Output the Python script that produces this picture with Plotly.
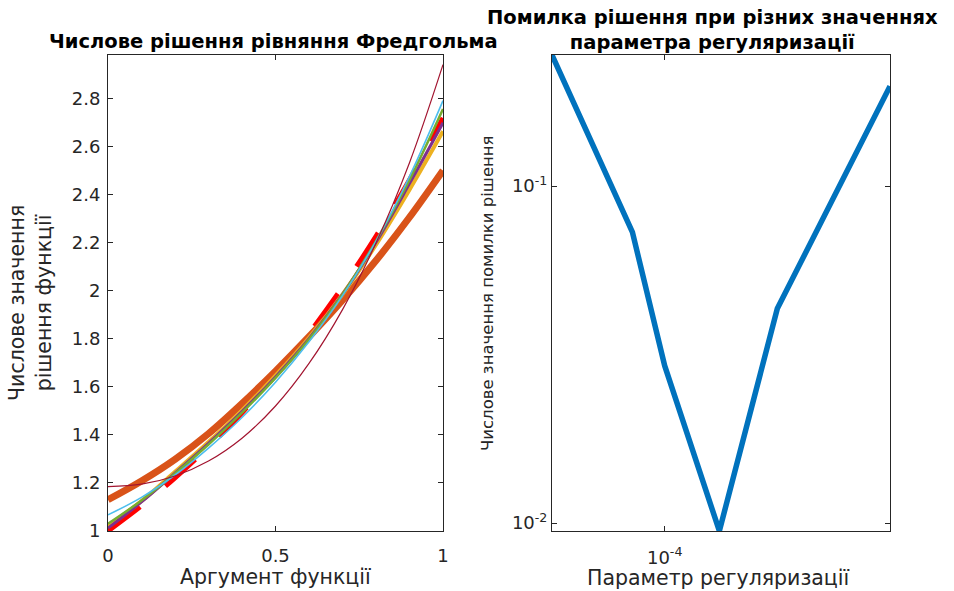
import plotly.graph_objects as go

# ---------------- data ----------------
x_arg = [0.0, 0.1, 0.2, 0.3, 0.4, 0.5, 0.6, 0.7, 0.8, 0.9, 1.0]
exact_solution = [1.000, 1.105, 1.221, 1.350, 1.492, 1.649, 1.822, 2.014, 2.226, 2.460, 2.718]
sol_1 = [1.130, 1.208, 1.298, 1.405, 1.530, 1.665, 1.808, 1.960, 2.125, 2.305, 2.500]   # orange
sol_2 = [1.020, 1.125, 1.246, 1.370, 1.502, 1.646, 1.804, 1.984, 2.191, 2.420, 2.663]   # yellow
sol_3 = [1.012, 1.121, 1.241, 1.365, 1.497, 1.641, 1.800, 1.984, 2.201, 2.445, 2.698]   # purple
sol_4 = [1.030, 1.127, 1.239, 1.360, 1.492, 1.637, 1.798, 1.984, 2.206, 2.460, 2.755]   # green
sol_5 = [1.067, 1.140, 1.233, 1.345, 1.472, 1.619, 1.787, 1.979, 2.206, 2.475, 2.790]   # light blue
sol_6 = [1.185, 1.195, 1.229, 1.291, 1.386, 1.520, 1.697, 1.921, 2.198, 2.532, 2.940]   # dark red

alpha = [5e-5, 8.2e-5, 1e-4, 1.4e-4, 2e-4, 4e-4]
error = [0.245, 0.073, 0.0293, 0.00947, 0.0433, 0.198]

left_yticks = [1.0, 1.2, 1.4, 1.6, 1.8, 2.0, 2.2, 2.4, 2.6, 2.8]
left_yticktext = ["1", "1.2", "1.4", "1.6", "1.8", "2", "2.2", "2.4", "2.6", "2.8"]
left_xticks = [0, 0.5, 1]
left_xticktext = ["0", "0.5", "1"]
right_yticks = [0.01, 0.1]
right_yticktext = ["10<sup>-2</sup>", "10<sup>-1</sup>"]
right_xticks = [1e-4]
right_xticktext = ["10<sup>-4</sup>"]

title_left = "Числове рішення рівняння Фредгольма"
title_right = "Помилка рішення при різних значеннях<br>параметра регуляризації"
xlabel_left = "Аргумент функції"
ylabel_left = "Числове значення<br>рішення функції"
xlabel_right = "Параметр регуляризації"
ylabel_right = "Числове значення помилки рішення"

# ---------------- figure ----------------
W, H = 954, 591
AX = "#262626"
TICKFONT = dict(family="DejaVu Sans", size=18, color=AX)
LABFONT = dict(family="DejaVu Sans", size=20.5, color=AX)
LABFONT_R = dict(family="DejaVu Sans", size=16.5, color=AX)
TITFONT = dict(family="DejaVu Sans", size=19.5, color="black", weight="bold")

def px_x(p):
    return p / W

def px_y(p):
    return 1 - p / H

colors = ["#D95319", "#EDB120", "#7E2F8E", "#77AC30", "#4DBEEE", "#A2142F"]
widths = [7, 4, 3, 2.5, 1.6, 1.2]
sols = [sol_1, sol_2, sol_3, sol_4, sol_5, sol_6]

fig = go.Figure()

fig.add_trace(go.Scatter(x=x_arg, y=exact_solution, mode="lines", xaxis="x", yaxis="y",
                         line=dict(color="#FF0000", width=5, dash="40px,33px", shape="spline"),
                         showlegend=False))
for s, c, w in zip(sols, colors, widths):
    fig.add_trace(go.Scatter(x=x_arg, y=s, mode="lines", xaxis="x", yaxis="y",
                             line=dict(color=c, width=w, shape="spline"), showlegend=False))

fig.add_trace(go.Scatter(x=alpha, y=error, mode="lines", xaxis="x2", yaxis="y2",
                         line=dict(color="#0072BD", width=5.5), showlegend=False))

ax_common = dict(showline=True, linecolor=AX, linewidth=1, mirror="ticks", ticks="inside",
                 ticklen=5, tickcolor=AX, showgrid=False, zeroline=False, tickfont=TICKFONT,
                 automargin=False)

top, bot = 55, 531
fig.update_layout(
    width=W, height=H, margin=dict(l=0, r=0, t=0, b=0, autoexpand=False),
    paper_bgcolor="white", plot_bgcolor="white",
    xaxis=dict(domain=[px_x(108), px_x(443)], range=[0, 1], tickvals=left_xticks,
               ticktext=left_xticktext, anchor="y", ticklabelstandoff=8, **ax_common),
    yaxis=dict(domain=[px_y(bot), px_y(top)], range=[1, 2.98], tickvals=left_yticks,
               ticktext=left_yticktext, anchor="x", ticklabelstandoff=3, **ax_common),
    xaxis2=dict(domain=[px_x(552), px_x(890)], type="log", range=[-4.30103, -3.39794],
                tickvals=right_xticks, ticktext=right_xticktext, anchor="y2",
                ticklabelstandoff=10, **ax_common),
    yaxis2=dict(domain=[px_y(bot), px_y(top)], type="log", range=[-2.0237, -0.6108],
                tickvals=right_yticks, ticktext=right_yticktext, anchor="x2", **ax_common),
)

ann = [
    dict(text="<b>" + title_left + "</b>", x=px_x(273), y=px_y(42), font=TITFONT,
         xanchor="center", yanchor="middle"),
    dict(text="<b>" + title_right.replace("<br>", "</b><br><b>") + "</b>", x=px_x(712), y=px_y(30),
         font=TITFONT, xanchor="center", yanchor="middle"),
    dict(text=xlabel_left, x=px_x(275), y=px_y(577), font=LABFONT, xanchor="center", yanchor="middle"),
    dict(text=xlabel_right, x=px_x(718), y=px_y(578), font=LABFONT, xanchor="center", yanchor="middle"),
    dict(text=ylabel_left, x=px_x(30), y=px_y(303), font=LABFONT, textangle=-90,
         xanchor="center", yanchor="middle"),
    dict(text=ylabel_right, x=px_x(487), y=px_y(293), font=LABFONT_R, textangle=-90,
         xanchor="center", yanchor="middle"),
]
for a in ann:
    a.update(xref="paper", yref="paper", showarrow=False)
fig.update_layout(annotations=ann)

fig.write_html("out.html", config={"displayModeBar": False},
               post_script="document.body.style.margin='0';")
